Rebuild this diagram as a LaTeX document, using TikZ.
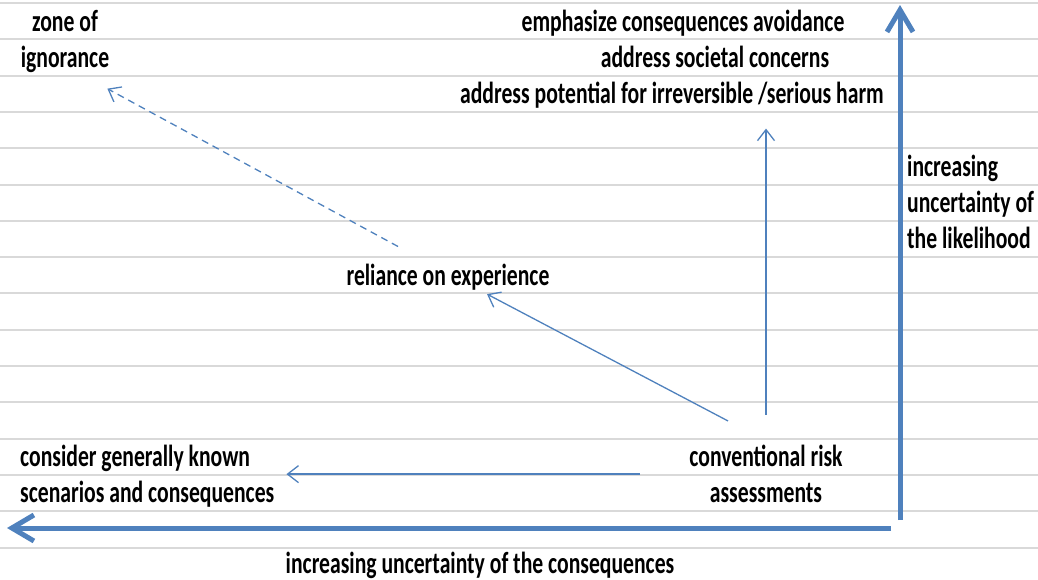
\documentclass[tikz,border=0pt]{standalone}
\usepackage{fontspec}
\setmainfont{Carlito}[FakeStretch=0.71]
\usetikzlibrary{calc,positioning,arrows.meta}
\definecolor{officeblue}{HTML}{4F81BD}
\definecolor{rulegray}{HTML}{D9D9D9}
\tikzset{
  ruleline/.style  = {draw=rulegray, line width=2pt},
  lbl/.style       = {inner sep=0pt, anchor=base,
                      font=\fontsize{30.5}{36.3}\selectfont\bfseries},
  thinarrow/.style = {draw=officeblue, line width=1.3pt,
                      -{Straight Barb[length=11pt,width=17pt]}},
  axisarrow/.style = {draw=officeblue, line width=5pt,
                      -{Straight Barb[length=22pt,width=26pt]}}
}

\begin{document}
\begin{tikzpicture}[x=1pt,y=-1pt]
\useasboundingbox (0,0) rectangle (1038,579);
% ruled background
\foreach \k in {0,...,15}
  \draw[ruleline] (0,{3+36.3*\k}) -- (1038,{3+36.3*\k});
% labels (multi-line nodes sit on the baseline of their last line)
\node[lbl,align=center] (zone) at (65,67.3) {zone of\\ignorance};
\node[lbl] (emph) at (683,31) {emphasize consequences avoidance};
\node[lbl] (societal) at (715,67.3) {address societal concerns};
\node[lbl] (harm) at (672,103.6) {address potential for irreversible /serious harm};
\node[lbl,align=left,anchor=base west] (likelihood) at (907,248.8) {increasing\\uncertainty of\\the likelihood};
\node[lbl] (reliance) at (448,285.1) {reliance on experience};
\node[lbl,align=left,anchor=base west] (known) at (20,502.9) {consider generally known\\scenarios and consequences};
\node[lbl,align=center] (conv) at (766,502.9) {conventional risk\\assessments};
\node[lbl] (conseq) at (480,573) {increasing uncertainty of the consequences};
% axes
\coordinate (vbot) at (900,520);
\coordinate (vtop) at (900,5);
\coordinate (hright) at (891,528);
\coordinate (hleft) at (7,528);
\draw[axisarrow] (vbot) -- (vtop);
\draw[axisarrow] (hright) -- (hleft);
% connectors
\draw[thinarrow] ([xshift=-49pt]conv.west) -- ([xshift=12pt]known.east |- conv.west);
\draw[thinarrow] ([yshift=30pt]conv.north) -- ([yshift=-20pt]conv.north |- harm.south);
\draw[thinarrow] ($(conv.north)+(-38,-24)$) -- ($(reliance.south)+(39,4)$);
\draw[thinarrow,dash pattern=on 7pt off 5pt] ($(reliance.north)+(-50,-17)$) -- ($(zone.south east)+(-2,16)$);
\end{tikzpicture}
\end{document}
